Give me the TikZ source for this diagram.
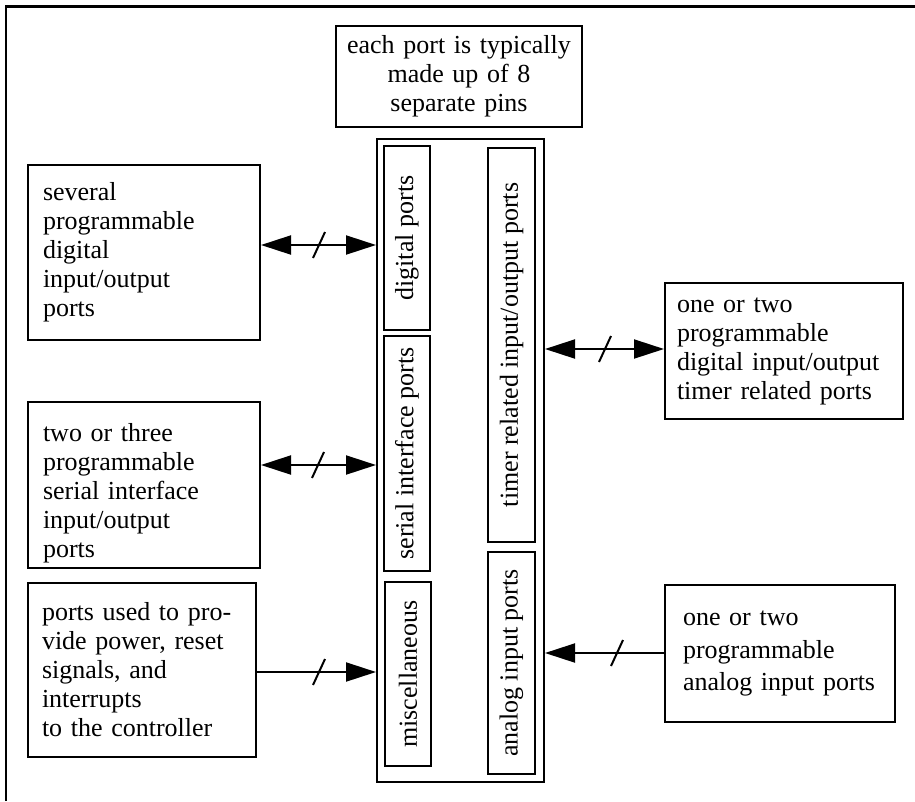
\documentclass[tikz,border=0pt]{standalone}
\usepackage{fontspec}
\setmainfont{Liberation Serif}
\usetikzlibrary{arrows.meta}
\begin{document}
\begin{tikzpicture}[x=1pt,y=-1pt,
  txt/.style={font=\fontsize{26}{29}\selectfont},
  box/.style={draw,line width=2pt,rectangle,inner ysep=0pt,txt},
  vbox/.style={draw,line width=2pt,rectangle,inner sep=0pt,rotate=90,txt},
  link/.style={line width=2pt},
  tip/.tip={Triangle[length=30pt,width=19pt]},
  slash/.pic={\draw[line width=2pt] (-6,13) -- (6,-13);}
]
\useasboundingbox (0,0) rectangle (915,801);
% outer frame (only top and left visible)
\draw[line width=2.5pt] (6,801) -- (6,6.5) -- (915,6.5);

% top note
\node[box,align=center,inner xsep=4pt,text width=238pt,minimum width=246pt,minimum height=101pt] (note) at (459,76.5)
  {each port is typically\\made up of 8\\separate pins};

% central block
\node[draw,line width=2pt,rectangle,minimum width=167pt,minimum height=643pt,inner sep=0pt] (blk) at (460.5,460.5) {};
\node[vbox,minimum width=184pt,minimum height=46pt] (dig) at (407,238) {digital ports};
\node[vbox,minimum width=235pt,minimum height=46pt] (ser) at (407,453.5) {serial interface ports};
\node[vbox,minimum width=184pt,minimum height=46pt] (misc) at (408,674) {miscellaneous};
\node[vbox,minimum width=394pt,minimum height=47pt] (tim) at (511.5,345) {timer related input/output ports};
\node[vbox,minimum width=222pt,minimum height=47pt] (ana) at (511.5,663) {analog input ports};

% left boxes
\node[box,align=left,inner xsep=15pt,text width=202pt,minimum height=175pt] (b1) at (144,252.5)
  {several\\programmable\\digital\\input/output\\ports};
\node[box,align=left,inner xsep=15pt,text width=202pt,minimum height=166pt] (b2) at (144,485)
  {\raisebox{-9pt}[\height][\depth]{\begin{tabular}{@{}l@{}}two or three\\programmable\\serial interface\\input/output\\ports\end{tabular}}};
\node[box,align=left,inner xsep=14pt,text width=200pt,minimum height=174pt] (b3) at (142,670)
  {ports used to pro-\\vide power, reset\\signals, and\\interrupts\\to the controller};

% right boxes
\node[box,align=left,inner xsep=12pt,text width=214pt,minimum height=136pt] (r1) at (784,351)
  {one or two\\programmable\\digital input/output\\timer related ports};
\node[box,align=left,inner xsep=18pt,text width=194pt,minimum height=137pt,font=\fontsize{26}{32.5}\selectfont] (r2) at (780,653.5)
  {one or two\\programmable\\analog input ports};

% connector levels
\coordinate (ya) at (0,245);
\coordinate (yb) at (0,465);
\coordinate (yc) at (0,672);
\coordinate (yd) at (0,349);
\coordinate (ye) at (0,653);

\draw[link,tip-tip] (b1.east |- ya) -- (blk.west |- ya);
\pic at (319,245) {slash};
\draw[link,tip-tip] (b2.east |- yb) -- (blk.west |- yb);
\pic at (318,465) {slash};
\draw[link,-tip] (b3.east |- yc) -- (blk.west |- yc);
\pic at (319,672) {slash};
\draw[link,tip-tip] (blk.east |- yd) -- (r1.west |- yd);
\pic at (605,349) {slash};
\draw[link,-tip] (r2.west |- ye) -- (blk.east |- ye);
\pic at (617,653) {slash};
\end{tikzpicture}
\end{document}
